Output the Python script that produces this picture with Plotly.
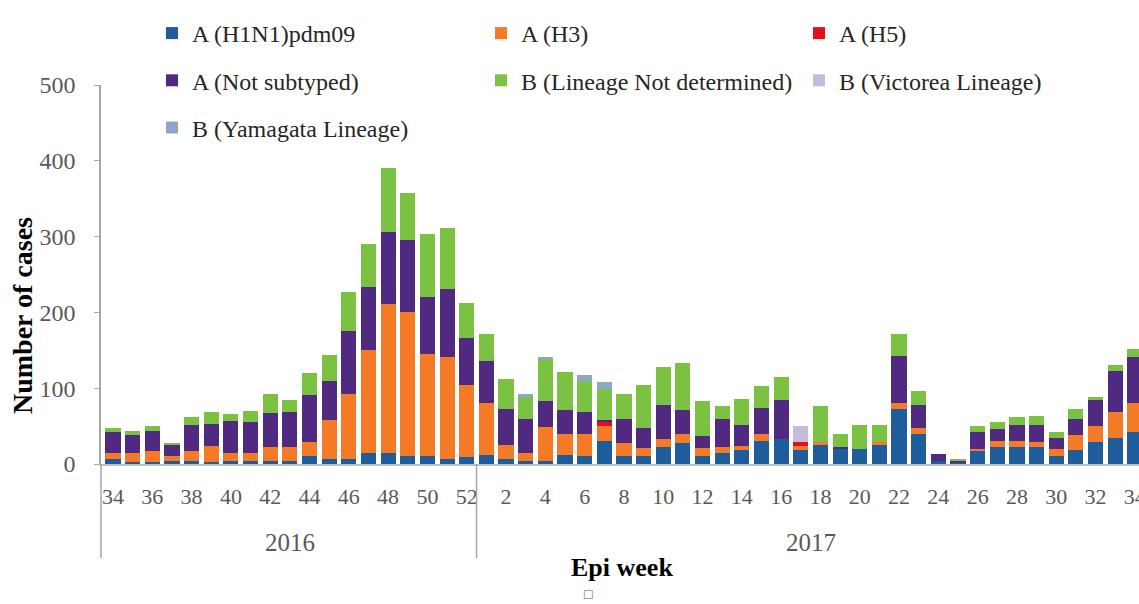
import plotly.graph_objects as go

# ---------------- data ----------------
weeks_2016 = list(range(34, 53))
weeks_2017 = list(range(1, 35))
weeks = weeks_2016 + weeks_2017
years = ["2016"] * len(weeks_2016) + ["2017"] * len(weeks_2017)

h1n1 = [6, 2, 2, 4, 4, 2, 4, 4, 4, 4, 11, 7, 6, 15, 15, 11, 11, 6, 9,
        12, 7, 4, 4, 12, 11, 31, 11, 11, 23, 28, 11, 15, 18, 31, 33, 18, 25, 21, 20,
        25, 73, 40, 4, 2, 18, 22, 23, 22, 11, 18, 29, 34, 42]
h3 = [9, 12, 15, 6, 13, 22, 11, 11, 19, 18, 18, 51, 86, 135, 196, 189, 134, 135, 95,
      69, 18, 10, 45, 27, 28, 19, 17, 10, 10, 11, 10, 8, 6, 8, 0, 6, 4, 0, 0,
      4, 7, 7, 0, 0, 2, 9, 7, 7, 9, 20, 21, 34, 39]
h5 = [0] * 19 + [0, 0, 0, 0, 0, 0, 5, 0, 0, 0, 0, 0, 0, 0, 0, 0, 5, 0, 0,
                 0, 0, 0, 0, 0, 0, 0, 0, 0, 0, 0, 0, 0, 0, 0]
not_subtyped = [27, 24, 26, 15, 35, 29, 42, 40, 44, 46, 62, 51, 84, 84, 95, 96, 75, 90, 62,
                55, 48, 45, 34, 32, 29, 3, 31, 27, 45, 32, 16, 36, 28, 35, 51, 0, 0, 2,
                0, 0, 62, 31, 9, 2, 22, 15, 22, 23, 14, 22, 34, 55, 60]
b_not_det = [6, 5, 7, 3, 10, 16, 9, 15, 26, 17, 29, 35, 51, 56, 84, 62, 84, 80, 47,
             35, 39, 29, 55, 50, 42, 41, 34, 56, 50, 62, 46, 18, 34, 29, 31, 0, 47, 16,
             32, 23, 29, 18, 0, 2, 8, 10, 10, 11, 8, 12, 4, 7, 11]
b_victoria = [0] * 19 + [0] * 16 + [21] + [0] * 17
b_yamagata = [0] * 19 + [0, 0, 5, 3, 0, 7, 9] + [0] * 27

series = [
    ("A (H1N1)pdm09", h1n1, "#1f5c9c", "legend"),
    ("A (H3)", h3, "#f57a25", "legend2"),
    ("A (H5)", h5, "#e3101c", "legend3"),
    ("A (Not subtyped)", not_subtyped, "#4f2a80", "legend"),
    ("B (Lineage Not determined)", b_not_det, "#7cc242", "legend2"),
    ("B (Victorea Lineage)", b_victoria, "#c4bcd9", "legend3"),
    ("B (Yamagata Lineage)", b_yamagata, "#8ea5cc", "legend"),
]

# ---------------- layout helpers ----------------
W, H = 1139, 604
ML, MR, MT, MB = 101, 0, 85, 140
PW, PH = W - ML - MR, H - MT - MB


def px_x(p):
    return (p - ML) / PW


def px_y(p):
    return (H - MB - p) / PH


FONT = "Liberation Serif"
x_idx = list(range(len(weeks)))

fig = go.Figure()
for i, (name, vals, color, leg) in enumerate(series):
    fig.add_trace(go.Bar(
        x=x_idx, y=vals, name=name, legend=leg, legendgroup=name,
        marker=dict(color=color, line=dict(width=0)),
        customdata=[[w, yr] for w, yr in zip(weeks, years)],
        hovertemplate="%{customdata[1]} wk %{customdata[0]}: %{y}<extra>" + name + "</extra>",
    ))

tickvals = [i for i, w in enumerate(weeks) if w % 2 == 0]
ticktext = [str(weeks[i]) for i in tickvals]

legend_common = dict(
    orientation="v", xanchor="left", yanchor="top", yref="paper", xref="paper",
    bgcolor="rgba(0,0,0,0)", borderwidth=0, tracegroupgap=13,
    font=dict(family=FONT, size=24, color="#262626"), itemwidth=30,
)

fig.update_layout(
    width=W, height=H,
    margin=dict(l=ML, r=MR, t=MT, b=MB, autoexpand=False),
    paper_bgcolor="white", plot_bgcolor="white",
    barmode="stack", bargap=0.23,
    font=dict(family=FONT, color="#595959"),
    legend=dict(legend_common, x=px_x(152), y=px_y(11)),
    legend2=dict(legend_common, x=px_x(481), y=px_y(11)),
    legend3=dict(legend_common, x=px_x(799), y=px_y(11)),
    xaxis=dict(
        range=[-0.61, 52.21], tickmode="array", tickvals=tickvals, ticktext=ticktext,
        showline=True, linecolor="#bfbfbf", linewidth=1.5, ticks="",
        showgrid=False, zeroline=False, ticklabelstandoff=12,
        ticklabeloverflow="allow",
        tickfont=dict(family=FONT, size=22, color="#595959"),
    ),
    yaxis=dict(
        range=[0, 500], tickmode="array", tickvals=[0, 100, 200, 300, 400, 500],
        showline=True, linecolor="#a6a6a6", linewidth=1.5, ticks="outside",
        ticklen=5, tickcolor="#a6a6a6", showgrid=False, zeroline=False,
        ticklabelstandoff=14,
        tickfont=dict(family=FONT, size=24, color="#595959"),
    ),
    showlegend=True,
)

# year-group separators below the axis
sep_bottom = px_y(558)
fig.add_shape(type="line", xref="paper", yref="paper", x0=0, x1=0, y0=0, y1=sep_bottom,
              line=dict(color="#a6a6a6", width=1.5))
fig.add_shape(type="line", xref="x", yref="paper", x0=18.5, x1=18.5, y0=0, y1=sep_bottom,
              line=dict(color="#a6a6a6", width=1.5))

annots = [
    dict(text="2016", x=9, xref="x", y=px_y(542), yref="paper",
         font=dict(family=FONT, size=25, color="#595959")),
    dict(text="2017", x=35.5, xref="x", y=px_y(542), yref="paper",
         font=dict(family=FONT, size=25, color="#595959")),
    dict(text="<b>Epi week</b>", x=px_x(622), xref="paper", y=px_y(567), yref="paper",
         font=dict(family=FONT, size=26, color="#000000")),
    dict(text="<b>Number of cases</b>", x=px_x(22), xref="paper", y=px_y(316), yref="paper",
         textangle=-90, font=dict(family=FONT, size=28, color="#000000")),
    dict(text="□", x=px_x(588), xref="paper", y=px_y(604), yref="paper", yanchor="bottom",
         font=dict(family=FONT, size=14, color="#595959")),
]
for a in annots:
    a.setdefault("xanchor", "center")
    a.setdefault("yanchor", "middle")
    fig.add_annotation(showarrow=False, **a)

fig.write_html("out.html", config={"displayModeBar": False},
               post_script="document.body.style.margin='0';")
